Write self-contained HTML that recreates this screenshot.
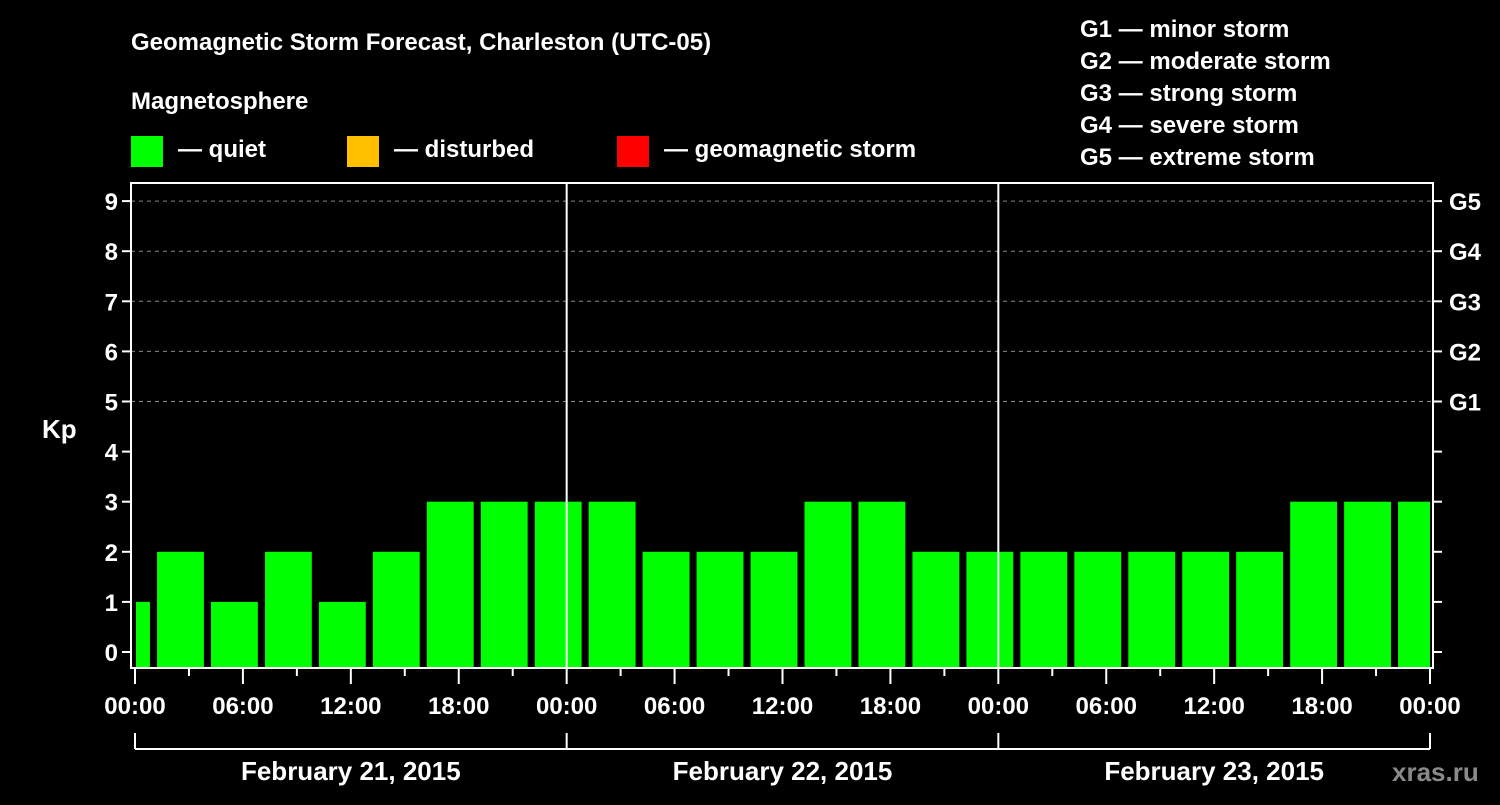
<!DOCTYPE html>
<html><head><meta charset="utf-8"><style>
body{margin:0;background:#000;width:1500px;height:800px;overflow:hidden}
svg text{font-family:"Liberation Sans",Arial,sans-serif;font-weight:bold;fill:#fff}
</style></head><body>
<svg width="1500" height="800">
<text x="131" y="50" font-size="24">Geomagnetic Storm Forecast, Charleston (UTC-05)</text>
<text x="131" y="109" font-size="24">Magnetosphere</text>
<rect x="131" y="136" width="32" height="31" fill="#00ff00"/>
<text x="178" y="157" font-size="24">— quiet</text>
<rect x="347" y="136" width="32" height="31" fill="#ffc000"/>
<text x="394" y="157" font-size="24">— disturbed</text>
<rect x="617" y="136" width="32" height="31" fill="#ff0000"/>
<text x="664" y="157" font-size="24">— geomagnetic storm</text>
<g font-size="24">
<text x="1080" y="37">G1 — minor storm</text>
<text x="1080" y="69">G2 — moderate storm</text>
<text x="1080" y="101">G3 — strong storm</text>
<text x="1080" y="133">G4 — severe storm</text>
<text x="1080" y="165">G5 — extreme storm</text>
</g>
<text x="42" y="438" font-size="26">Kp</text>
<g id="grid"></g><g id="bars"></g><g id="axes"></g>
<text x="1392" y="781" font-size="26" fill="#888" style="fill:#8a8a8a">xras.ru</text>
</svg>
<script>
const kpValues=[1,2,1,2,1,2,3,3,3,3,2,2,2,3,3,2,2,2,2,2,2,2,3,3,3];
const blockStartHours=[-2,1,4,7,10,13,16,19,22,25,28,31,34,37,40,43,46,49,52,55,58,61,64,67,70];
const xTickLabels=["00:00","06:00","12:00","18:00","00:00","06:00","12:00","18:00","00:00","06:00","12:00","18:00","00:00"];
const dayLabels=["February 21, 2015","February 22, 2015","February 23, 2015"];
const gLabels=["G1","G2","G3","G4","G5"];
const NS="http://www.w3.org/2000/svg";
const L=131,R=1433,T=183,B=668;
const x=h=>135+h*(1295/72);
const y=k=>652-k*50.1;
function mk(t,a,p){const e=document.createElementNS(NS,t);for(const k in a)e.setAttribute(k,a[k]);p.appendChild(e);return e;}
const grid=document.getElementById('grid'),bars=document.getElementById('bars'),axes=document.getElementById('axes');
for(let k=5;k<=9;k++){const g=mk('line',{x1:L,x2:R,y1:y(k),y2:y(k),stroke:'#888','stroke-dasharray':'4,4','stroke-width':1},grid);

}
kpValues.forEach((v,i)=>{const s=Math.max(0,blockStartHours[i]+0.17),e=Math.min(72,blockStartHours[i]+2.83);
const r=mk('rect',{x:x(s)+1,y:y(v),width:x(e)-x(s)-1,height:B-y(v),fill:v>=5?'#ff0000':(v>=4?'#ffc000':'#00ff00')},bars);

});
[1,2].forEach(d=>{const l=mk('line',{x1:x(d*24),x2:x(d*24),y1:T,y2:B,stroke:'#fff','stroke-width':2},axes);

});
const box=mk('rect',{x:L,y:T,width:R-L,height:B-T,fill:'none',stroke:'#fff','stroke-width':2},axes);


for(let k=0;k<=9;k++){mk('line',{x1:L-9,x2:L,y1:y(k),y2:y(k),stroke:'#fff','stroke-width':2},axes);
mk('line',{x1:R,x2:R+9,y1:y(k),y2:y(k),stroke:'#fff','stroke-width':2},axes);
const t=mk('text',{x:L-13,y:y(k)+9,'font-size':24,'text-anchor':'end'},axes);t.textContent=k;

}
gLabels.forEach((g,i)=>{const t=mk('text',{x:1449,y:y(i+5)+9,'font-size':24},axes);t.textContent=g;

});
for(let h=0;h<=72;h+=3){const major=h%6==0;mk('line',{x1:x(h),x2:x(h),y1:B,y2:B+(major?16:8),stroke:'#fff','stroke-width':2},axes);}
xTickLabels.forEach((s,i)=>{const t=mk('text',{x:x(i*6),y:714,'font-size':24,'text-anchor':'middle'},axes);t.textContent=s;

});
mk('line',{x1:x(0),x2:x(72),y1:749,y2:749,stroke:'#fff','stroke-width':2},axes);
for(let d=0;d<=3;d++)mk('line',{x1:x(d*24),x2:x(d*24),y1:733,y2:749,stroke:'#fff','stroke-width':2},axes);
dayLabels.forEach((s,i)=>{const t=mk('text',{x:x(i*24+12),y:780,'font-size':26,'text-anchor':'middle'},axes);t.textContent=s;

});
</script>
</body></html>
